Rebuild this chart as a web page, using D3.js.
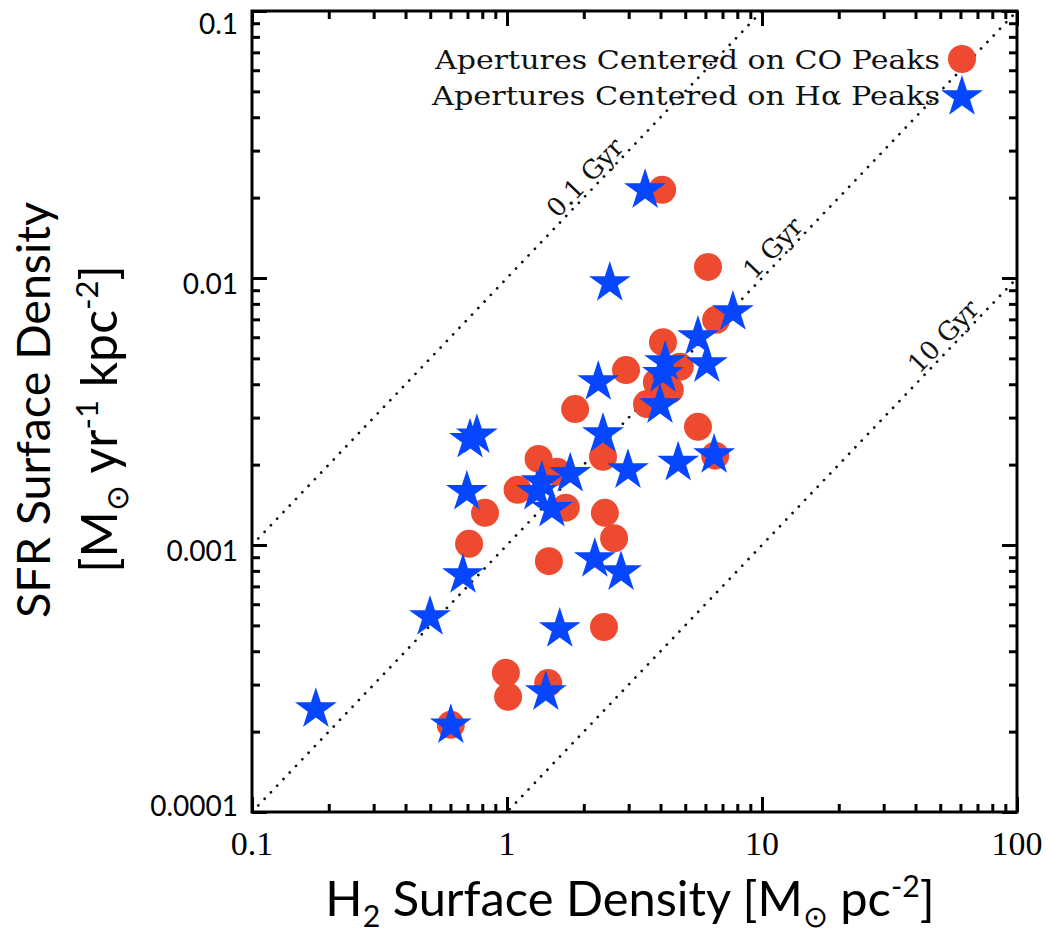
<!DOCTYPE html>
<html><head><meta charset="utf-8">
<script src="https://cdn.jsdelivr.net/npm/d3@7/dist/d3.min.js"></script>
<style>body{margin:0;background:#fff}svg{display:block}</style>
</head><body>
<svg id="c" width="1049" height="933"></svg>
<script>
// ---- data ----
const coSigmaH2 = [4.06,6.14,6.61,4.09,2.93,4.76,3.87,4.35,3.54,1.85,5.61,2.38,6.55,1.33,1.57,1.10,1.70,0.82,2.42,2.63,0.71,1.46,2.40,0.99,1.01,1.45,0.602];
const coSigmaSFR = [0.0214,0.011,0.00697,0.00575,0.00452,0.00465,0.00407,0.00381,0.00337,0.00323,0.00277,0.00214,0.00216,0.0021,0.00188,0.00161,0.00138,0.00132,0.00132,0.00106,0.00101,0.00087,0.000493,0.000332,0.00027,0.000304,0.000212];
const haSigmaH2 = [3.48,2.53,7.69,5.61,4.17,6.08,4.09,2.28,3.98,2.38,4.69,6.49,2.98,1.77,1.37,1.31,1.50,0.716,0.762,0.696,2.21,2.80,0.672,0.499,1.61,1.42,0.178,0.602];
const haSigmaSFR = [0.0217,0.00975,0.00759,0.00612,0.00493,0.00484,0.00445,0.00415,0.0034,0.00265,0.00207,0.00221,0.00194,0.00188,0.00175,0.00161,0.00139,0.00252,0.00262,0.00161,0.000902,0.000805,0.000785,0.000547,0.000493,0.000286,0.000247,0.000215];
const xTickValues = [0.1,1,10,100];
const xTickLabels = ["0.1","1","10","100"];
const yTickValues = [0.1,0.01,0.001,0.0001];
const yTickLabels = ["0.1","0.01","0.001","0.0001"];
const depletionGyr = [0.1,1,10];
const depletionLabels = ["0.1 Gyr","1 Gyr","10 Gyr"];
const depletionLabelAt = [2.2,12.0,56];
const legendLabels = ["Apertures Centered on CO Peaks","Apertures Centered on H\u03b1 Peaks"];

// ---- layout ----
const L=252,R=1017,T=11,B=812;
const RED="#ee4a2f", BLUE="#0646ff";
const svg=d3.select("#c");
const x=d3.scaleLog().domain([0.1,100]).range([L,R]);
const y=d3.scaleLog().domain([0.0001,0.1]).range([B,T]);

function minorTicks(lo,hi){const a=[];for(let e=lo;e<hi;e++){for(let m=2;m<=9;m++)a.push(m*Math.pow(10,e));}return a;}
const xMinor=minorTicks(-1,2), yMinor=minorTicks(-4,-1);

// dotted depletion lines
svg.append("clipPath").attr("id","pc").append("rect").attr("x",L).attr("y",T).attr("width",R-L).attr("height",B-T);
const lineG=svg.append("g").attr("clip-path","url(#pc)");
const xs=d3.range(0,61).map(i=>Math.pow(10,-1+i*3/60));
depletionGyr.forEach(t=>{
  const f=s=>s*1e6/(t*1e9);
  lineG.append("path")
    .attr("d",d3.line().x(s=>x(s)).y(s=>y(f(s)))(xs))
    .attr("fill","none").attr("stroke","#111").attr("stroke-width",2.7)
    .attr("stroke-linecap","round").attr("stroke-dasharray","0.1,9");
});
// depletion labels
const theta=Math.atan((B-T)/3/((R-L)/3));
depletionGyr.forEach((t,i)=>{
  const s=depletionLabelAt[i], px=x(s), py=y(s*1e6/(t*1e9));
  const off=4;
  const nx=-Math.sin(theta)*off, ny=-Math.cos(theta)*off;
  svg.append("text").text(depletionLabels[i])
    .attr("transform",`translate(${px+nx},${py+ny}) rotate(${-theta*180/Math.PI})`)
    .attr("text-anchor","middle").attr("font-family","DejaVu Serif").attr("font-size",26)
    .attr("fill","#111");
});

// ticks via axes
function addAxis(axisFn,tr,vals,size){
  svg.append("g").attr("transform",tr)
    .call(axisFn.tickValues(vals).tickSize(-size).tickFormat(""))
    .call(g=>{g.select(".domain").remove();g.selectAll(".tick line").attr("stroke","#000").attr("stroke-width",3);});
}
addAxis(d3.axisBottom(x),`translate(0,${B})`,xTickValues,15);
addAxis(d3.axisBottom(x),`translate(0,${B})`,xMinor,8);
addAxis(d3.axisTop(x),`translate(0,${T})`,xTickValues,15);
addAxis(d3.axisTop(x),`translate(0,${T})`,xMinor,8);
addAxis(d3.axisLeft(y),`translate(${L},0)`,yTickValues,15);
addAxis(d3.axisLeft(y),`translate(${L},0)`,yMinor,8);
addAxis(d3.axisRight(y),`translate(${R},0)`,yTickValues,15);
addAxis(d3.axisRight(y),`translate(${R},0)`,yMinor,8);

// frame
svg.append("rect").attr("x",L).attr("y",T).attr("width",R-L).attr("height",B-T)
  .attr("fill","none").attr("stroke","#000").attr("stroke-width",3);

// tick labels
xTickValues.forEach((v,i)=>{
  svg.append("text").text(xTickLabels[i]).attr("x",x(v)).attr("y",855)
    .attr("text-anchor","middle").attr("font-family","Liberation Serif").attr("font-size",34).attr("fill","#000");
});
yTickValues.forEach((v,i)=>{
  const yc=Math.min(Math.max(y(v)+5,T+12),B-7);
  svg.append("text").text(yTickLabels[i]).attr("x",238).attr("y",yc)
    .attr("dominant-baseline","central")
    .attr("text-anchor","end").attr("font-family","Lato").attr("font-size",28).attr("fill","#000");
});

// points
const starSize=r=>r*r/0.8908130915292852;
const star=d3.symbol().type(d3.symbolStar).size(starSize(22));
svg.append("g").selectAll("circle").data(coSigmaH2).join("circle")
  .attr("cx",d=>x(d)).attr("cy",(d,i)=>y(coSigmaSFR[i])).attr("r",14).attr("fill",RED);
svg.append("g").selectAll("path").data(haSigmaH2).join("path")
  .attr("d",star).attr("transform",(d,i)=>`translate(${x(d)},${y(haSigmaSFR[i])+2})`).attr("fill",BLUE);

// legend
const legY=[59,95];
legendLabels.forEach((lab,i)=>{
  svg.append("text").text(lab).attr("x",940).attr("y",legY[i]+9.5)
    .attr("text-anchor","end").attr("font-family","DejaVu Serif").attr("font-size",26)
    .attr("textLength",i===0?505:508).attr("lengthAdjust","spacingAndGlyphs").attr("fill","#111");
});
svg.append("circle").attr("cx",962).attr("cy",legY[0]).attr("r",14).attr("fill",RED);
svg.append("path").attr("d",star).attr("transform",`translate(962,${legY[1]+2})`).attr("fill",BLUE);

// rich text helper
function rich(parent,parts,fs,attrs){
  const t=parent.append("text");
  Object.entries(attrs).forEach(([k,v])=>t.attr(k,v));
  t.attr("font-size",fs);
  let shift=0;
  parts.forEach(p=>{
    const target=p.sub?fs*0.22:p.sup?-fs*0.38:0;
    const ts=t.append("tspan").text(p.t).attr("dy",target-shift);
    if(p.sub||p.sup)ts.attr("font-size",fs*0.62);
    shift=target;
  });
  return t;
}
function fitted(parent,parts,width,attrs){
  let t=rich(parent,parts,40,attrs);
  const w=t.node().getComputedTextLength();
  t.remove();
  return rich(parent,parts,40*width/w,attrs);
}
const sans="Lato";
// x title
fitted(svg,[{t:"H"},{t:"2",sub:true},{t:" Surface Density [M"},{t:"\u2299",sub:true},{t:" pc"},{t:"-2",sup:true},{t:"]"}],610,
  {"x":630,"y":916,"text-anchor":"middle","font-family":sans,"fill":"#000"});
// y title
const g1=svg.append("g").attr("transform","translate(50,410) rotate(-90)");
fitted(g1,[{t:"SFR Surface Density"}],416,{"x":0,"y":0,"text-anchor":"middle","font-family":sans,"fill":"#000"});
const g2=svg.append("g").attr("transform","translate(117,419) rotate(-90)");
fitted(g2,[{t:"[M"},{t:"\u2299",sub:true},{t:" yr"},{t:"-1",sup:true},{t:" kpc"},{t:"-2",sup:true},{t:"]"}],308,{"x":0,"y":0,"text-anchor":"middle","font-family":sans,"fill":"#000"});
</script>
</body></html>
